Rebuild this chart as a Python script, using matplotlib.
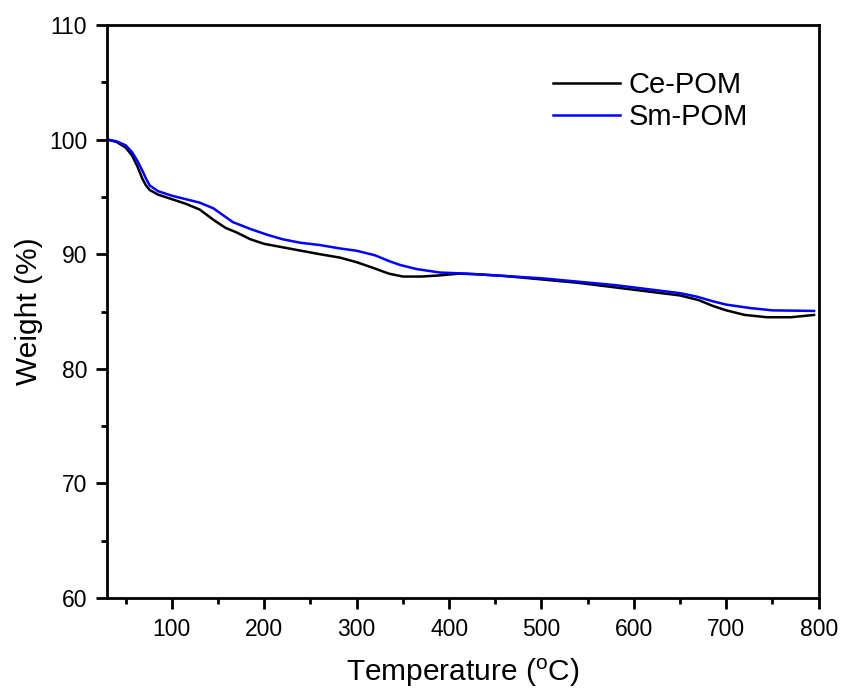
import numpy as np
import matplotlib
matplotlib.use("Agg")
import matplotlib.pyplot as plt
from matplotlib.ticker import MultipleLocator

plt.rcParams['font.family'] = ['Liberation Sans', 'DejaVu Sans']

# TGA curves
ce_T = [30, 40, 50, 57, 63, 68, 72, 76, 85, 100, 115, 130, 145, 158, 170, 185,
        200, 220, 240, 260, 282, 300, 318, 335, 350, 370, 390, 410, 430, 460,
        500, 540, 580, 620, 650, 670, 685, 700, 720, 744, 770, 795]
ce_W = [100, 99.8, 99.3, 98.6, 97.6, 96.6, 96.0, 95.6, 95.2, 94.8, 94.4, 93.9,
        93.0, 92.3, 91.9, 91.3, 90.9, 90.6, 90.3, 90.0, 89.7, 89.3, 88.8, 88.3,
        88.05, 88.05, 88.15, 88.3, 88.25, 88.1, 87.8, 87.5, 87.1, 86.7, 86.4,
        86.0, 85.5, 85.1, 84.7, 84.5, 84.5, 84.7]

sm_T = [30, 40, 50, 57, 63, 68, 72, 76, 85, 100, 115, 130, 145, 166, 185, 203,
        220, 239, 260, 282, 300, 320, 335, 347, 365, 390, 420, 460, 500, 540,
        580, 620, 650, 668, 685, 700, 726, 750, 795]
sm_W = [100, 99.85, 99.5, 98.9, 98.1, 97.3, 96.6, 96.0, 95.5, 95.1, 94.8, 94.5,
        94.0, 92.8, 92.2, 91.7, 91.3, 91.0, 90.8, 90.5, 90.3, 89.9, 89.4, 89.06,
        88.7, 88.4, 88.3, 88.1, 87.9, 87.6, 87.3, 86.9, 86.6, 86.3, 85.9, 85.6,
        85.3, 85.1, 85.05]

fig = plt.figure(figsize=(8.44, 6.93), dpi=100)
ax = fig.add_axes([0.127, 0.137, 0.843, 0.827])

ax.plot(ce_T, ce_W, color='black', lw=1.8, label='Ce-POM')
ax.plot(sm_T, sm_W, color='#0000ff', lw=1.8, label='Sm-POM')

ax.set_xlim(30, 800)
ax.set_ylim(60, 110)
ax.xaxis.set_major_locator(MultipleLocator(100))
ax.xaxis.set_minor_locator(MultipleLocator(50))
ax.yaxis.set_major_locator(MultipleLocator(10))
ax.yaxis.set_minor_locator(MultipleLocator(5))
ax.tick_params(which='major', direction='out', length=8, width=2, labelsize=16.5)
ax.tick_params(axis='x', which='major', pad=6.5)
ax.tick_params(axis='y', which='major', pad=6.5)
ax.tick_params(which='minor', direction='out', length=4, width=2)
for s in ax.spines.values():
    s.set_linewidth(2)

ax.set_xlabel('Temperature ($\\mathregular{^{o}}$C)', fontsize=21.5, labelpad=11)
ax.set_ylabel('Weight (%)', fontsize=21.5, labelpad=4.5)

ax.legend(loc='upper left', bbox_to_anchor=(0.626, 0.92), frameon=False,
          fontsize=21, handlelength=2.3, handletextpad=0.3, labelspacing=0.15,
          borderpad=0, borderaxespad=0)

fig.savefig('out.png', dpi=100)
